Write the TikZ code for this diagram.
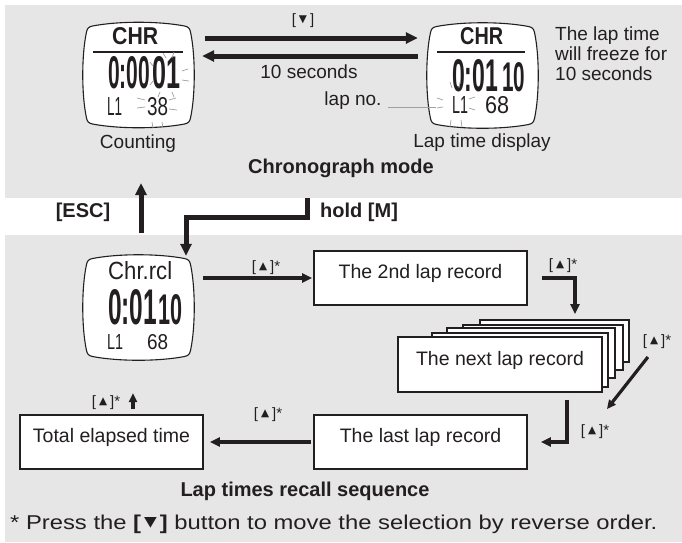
\documentclass[tikz,border=0pt]{standalone}
\usepackage{graphicx}
\usepackage{fontspec}
\setmainfont{Liberation Sans}
\newfontfamily\symf{DejaVu Sans}
\usetikzlibrary{arrows.meta}
\definecolor{panelgray}{HTML}{E6E6E6}
\definecolor{ink}{HTML}{231F20}
\definecolor{raygray}{HTML}{A0A0A0}
\newcommand{\uptri}{\raisebox{0.2ex}{\symf\scalebox{0.7}{▲}}}
\newcommand{\dntri}{\raisebox{0.2ex}{\symf\scalebox{0.7}{▼}}}
\newcommand{\upkey}{[\kern3pt\uptri\kern3pt]*}
\newcommand{\dnkey}{[\kern3pt\dntri\kern3pt]}
\newcommand{\fit}[3]{\resizebox{#1}{#2}{#3}}
\begin{document}
\begin{tikzpicture}[x=1pt,y=-1pt,
  lbl/.style={font=\fontsize{19}{19}\selectfont, text=ink, inner sep=0},
  bl/.style={font=\fontsize{20}{20}\selectfont\bfseries, text=ink, inner sep=0},
  keyl/.style={font=\fontsize{15}{15}\selectfont, text=ink, inner sep=0},
  seg/.style={anchor=south west, inner sep=0, text=ink},
  lcdbox/.style={minimum width=113pt, minimum height=105pt, inner sep=0},
  lcdline/.style={draw=ink, line width=1.1pt, fill=white},
  recbox/.style={draw=ink, line width=1.8pt, fill=white, inner sep=0,
    minimum height=54pt, font=\fontsize{19.5}{19.5}\selectfont, text=ink,
    text height=14pt, text depth=13pt},
  backbox/.style={draw=ink, line width=1.1pt, fill=white},
  bigarrow/.style={draw=ink, line width=5pt, -{Triangle[length=12pt,width=11pt]}},
  midarrow/.style={draw=ink, line width=4pt, -{Triangle[length=10pt,width=9pt]}},
  thinarrow/.style={draw=ink, line width=3.2pt, -{Triangle[length=9pt,width=8pt]}},
  ray/.style={draw=raygray, line width=0.7pt},
]
\useasboundingbox (0,0) rectangle (682,542);
% panels
\fill[panelgray] (5,5) rectangle (682,198);
\fill[panelgray] (5,235) rectangle (682,542);

% ---------- LCD shapes ----------
\node[lcdbox] (lcd1) at (138.5,75) {};
\node[lcdbox] (lcd2) at (482.5,75.5) {};
\node[lcdbox] (lcd3) at (138.5,307.5) {};
\foreach \L in {lcd1,lcd2,lcd3}{
  \draw[lcdline, shift={(\L.center)}]
    (-46,-49) .. controls (-20,-54) and (20,-54) .. (46,-49)
    .. controls (50,-48) and (51,-47) .. (52,-43)
    .. controls (57,-20) and (57,20) .. (52,43)
    .. controls (51,47) and (50,48) .. (46,49)
    .. controls (20,54) and (-20,54) .. (-46,49)
    .. controls (-50,48) and (-51,47) .. (-52,43)
    .. controls (-57,20) and (-57,-20) .. (-52,-43)
    .. controls (-51,-47) and (-50,-48) .. (-46,-49) -- cycle;
}

% LCD 1 content
\node[seg] (l1a) at (112,45) {\fit{46pt}{17pt}{\bfseries CHR}};
\draw[ink, line width=2pt] (93,52) -- (183,52);
\node[seg] (l1b) at (108,89) {\fit{42pt}{32pt}{\bfseries 0:00}};
\node[seg] (l1c) at (152,89) {\fit{28pt}{32pt}{\bfseries 01}};
\node[seg] (l1d) at (107,116) {\fit{15pt}{18pt}{L1}};
\node[seg] (l1e) at (147,116) {\fit{21pt}{18pt}{38}};
% rays LCD1
\draw[ray] (163,53)--(166,58) (174,52)--(172,58)
  (182,71)--(188,69) (182,80)--(189,81)
  (172,92)--(174,97) (160,92)--(158,97)
  (150,62)--(153,66) (150,85)--(153,81)
  (137,98)--(145,100) (137,108)--(145,107)
  (169,100)--(176,98) (169,109)--(177,110)
  (152,122)--(153,128) (162,122)--(163,128);

% LCD 2 content
\node[seg] (l2a) at (460,45) {\fit{43pt}{17pt}{\bfseries CHR}};
\draw[ink, line width=2pt] (437,52) -- (525,52);
\node[seg] (l2b) at (452,92) {\fit{46pt}{32pt}{\bfseries 0:01}};
\node[seg] (l2c) at (502,92) {\fit{23pt}{29pt}{\bfseries 10}};
\node[seg] (l2d) at (452,114) {\fit{16pt}{17pt}{L1}};
\node[seg] (l2e) at (485,114) {\fit{24pt}{17pt}{68}};
% rays LCD2
\draw[ray] (437,98)--(443,100) (437,108)--(443,107)
  (469,99)--(475,97) (469,108)--(475,110)
  (450,82)--(452,88) (460,82)--(459,88)
  (451,120)--(450,127) (461,120)--(462,127);

% LCD 3 content
\node[seg] (l3a) at (108,280) {\fit{64pt}{18pt}{Chr.rcl}};
\node[seg] (l3b) at (108,325) {\fit{49pt}{35pt}{\bfseries 0:01}};
\node[seg] (l3c) at (158,325) {\fit{24pt}{30pt}{\bfseries 10}};
\node[seg] (l3d) at (107,350) {\fit{16pt}{15pt}{L1}};
\node[seg] (l3e) at (147,350) {\fit{21pt}{15pt}{68}};

% ---------- top labels ----------
\node[keyl, anchor=base] (kdn) at (303,24) {\dnkey};
\node[lbl, anchor=base] (tensec) at (309,78) {10 seconds};
\node[lbl, anchor=base] (lapno) at (353,105) {lap no.};
\draw[raygray, line width=0.8pt] (lapno.east |- 0,107) ++(6,0) coordinate (lnA) -- (436,107) coordinate (lnB);
\node[lbl, anchor=base] (cnt) at (138,148) {Counting};
\node[lbl, anchor=base] (ltd) at (482,147) {Lap time display};
\node[lbl, anchor=base west] (fr1) at (555,40) {The lap time};
\node[lbl, anchor=base west] (fr2) at (555,60) {will freeze for};
\node[lbl, anchor=base west] (fr3) at (555,80) {10 seconds};
\node[bl, anchor=base] (chm) at (341,173) {Chronograph mode};

% top arrows
\draw[bigarrow] ([xshift=10pt,yshift=37pt]lcd1.east) -- ([xshift=-8pt,yshift=37.5pt]lcd2.west);
\draw[bigarrow] ([xshift=-8pt,yshift=19.5pt]lcd2.west) -- ([xshift=7pt,yshift=19pt]lcd1.east);

% ---------- middle band ----------
\node[bl, anchor=base] (esc) at (83,217) {[ESC]};
\node[bl, anchor=base west] (hold) at (320,217) {hold [M]};
\coordinate (escA) at (141,233);
\coordinate (escB) at (141,183);
\draw[bigarrow] (escA) -- (escB);
\coordinate (holdA) at (307,198);
\draw[bigarrow] (holdA) -- ++(0,19) -| ([xshift=47.5pt,yshift=-1pt]lcd3.north);

% ---------- bottom ----------
\node[recbox, minimum width=213pt] (box2) at (420.5,278) {The 2nd lap record};
% stack
\draw[backbox] (480,320) rectangle (629,362);
\draw[backbox] (463,325) rectangle (623,370);
\draw[backbox] (447,328) rectangle (615,378);
\draw[backbox] (432,333) rectangle (608,387);
\node[recbox, minimum width=204pt, minimum height=55pt] (next) at (500,364.5) {The next lap record};
\node[recbox, minimum width=213pt] (last) at (420.5,442) {The last lap record};
\node[recbox, minimum width=183pt] (total) at (111.5,442) {Total elapsed time};

\draw[midarrow] ([xshift=8pt,yshift=29.5pt]lcd3.east) -- ([xshift=-1pt]box2.west);
\node[keyl, anchor=base] (k1) at (266,271) {\upkey};
\draw[midarrow] ([xshift=14pt]box2.east) -| ([xshift=75pt,yshift=22pt]next.north);
\node[keyl, anchor=base] (k2) at (563,269) {\upkey};
\draw[thinarrow] ([xshift=45pt,yshift=7.5pt]next.east) -- ([xshift=79pt,yshift=5pt]last.north east);
\node[keyl, anchor=base] (k3) at (657,345) {\upkey};
\draw[midarrow] ([xshift=67pt,yshift=-7pt]next.south) |- ([xshift=13pt]last.east);
\node[keyl, anchor=base] (k4) at (595,435) {\upkey};
\draw[midarrow] ([xshift=-2pt]last.west) -- ([xshift=6pt]total.east);
\node[keyl, anchor=base] (k5) at (268,418) {\upkey};
\draw[thinarrow] ([xshift=21.5pt,yshift=5pt]total.north) -- ++(0,-16);
\node[keyl, anchor=base] (k6) at (106,406) {\upkey};

\node[bl, anchor=base] (lts) at (305,496) {Lap times recall sequence};
\node[lbl, anchor=base west] (foot) at (10,529) {\scalebox{1.19}[1]{\fontsize{20}{20}\selectfont * Press the \textbf{[\kern2.5pt\dntri\kern2.5pt]} button to move the selection by reverse order.}};
\end{tikzpicture}
\end{document}
